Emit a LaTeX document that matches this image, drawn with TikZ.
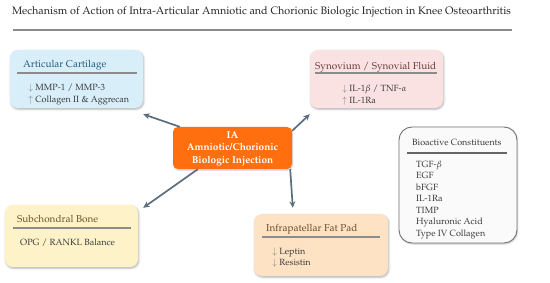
\documentclass[tikz,border=0pt]{standalone}
\usepackage[T1]{fontenc}
\usepackage{mathpazo}
\usetikzlibrary{arrows.meta,shadows.blur}
\definecolor{cartfill}{HTML}{D8EEF9}
\definecolor{carthead}{HTML}{245B7A}
\definecolor{synfill}{HTML}{FBE2E2}
\definecolor{synhead}{HTML}{6B3B3B}
\definecolor{subfill}{HTML}{FDF2C8}
\definecolor{subhead}{HTML}{6B5526}
\definecolor{ipfill}{HTML}{FDE3C4}
\definecolor{iphead}{HTML}{6B4A2E}
\definecolor{iaorange}{HTML}{FF6F10}
\definecolor{conncol}{HTML}{5B6E80}
\definecolor{rulecol}{HTML}{8C8C8C}
\definecolor{txtcol}{HTML}{3A3A3A}
\definecolor{arrcol}{HTML}{808080}
\tikzset{
  region/.style={rounded corners=8pt, inner sep=0pt,
    blur shadow={shadow xshift=0.8pt, shadow yshift=-1.3pt, shadow blur radius=2pt, shadow opacity=30}},
  headtxt/.style={anchor=base west, inner sep=0pt, font=\fontsize{10}{12}\selectfont},
  itemtxt/.style={anchor=base west, inner sep=0pt, text=txtcol, font=\fontsize{9}{11}\selectfont},
  seprule/.style={draw=rulecol, line width=1.3pt},
  conn/.style={draw=conncol, line width=1.7pt, -{Stealth[length=6.5pt,width=6pt]}},
}
\newcommand{\dn}{\textcolor{arrcol}{$\downarrow$}}
\newcommand{\upa}{\textcolor{arrcol}{$\uparrow$}}
\begin{document}
\begin{tikzpicture}[x=1pt,y=-1pt]
\useasboundingbox (0,0) rectangle (550,283);
% title
\node[inner sep=0pt, text=black!85, font=\fontsize{10.8}{13}\selectfont] (title) at (261.5,12.5) {Mechanism of Action of Intra-Articular Amniotic and Chorionic Biologic Injection in Knee Osteoarthritis};
\coordinate (tl) at (13,30);
\coordinate (tr) at (512,30);
\draw[draw=rulecol, line width=1.3pt] (tl) -- (tr);

% boxes
\node[region, fill=cartfill, minimum width=133pt, minimum height=58pt] (ac) at (76.5,79) {};
\node[region, fill=synfill, minimum width=133pt, minimum height=58pt] (syn) at (376.5,79) {};
\node[region, fill=subfill, minimum width=133pt, minimum height=62pt] (sub) at (71.5,236) {};
\node[region, fill=ipfill, minimum width=134pt, minimum height=62pt] (ip) at (321,245) {};
\node[rounded corners=13pt, draw=black!55, line width=0.9pt, fill=black!2, minimum width=118pt, minimum height=116pt, inner sep=0pt,
  blur shadow={shadow xshift=0.6pt, shadow yshift=-1pt, shadow blur radius=1.5pt, shadow opacity=25}] (bio) at (458,185) {};
\node[rounded corners=5pt, fill=iaorange, minimum width=119pt, minimum height=42pt, inner sep=0pt,
  blur shadow={shadow xshift=0.6pt, shadow yshift=-1pt, shadow blur radius=1.5pt, shadow opacity=25}] (ia) at (232.5,148) {};
\node[text=white, align=center, inner sep=0pt, font=\fontsize{10}{12.5}\selectfont\bfseries] (iatxt) at (232.5,148.5) {IA\\Amniotic/Chorionic\\Biologic Injection};

% Articular cartilage
\node[headtxt, text=carthead] (ach) at (23,67.5) {Articular Cartilage};
\draw[seprule] (17,73) -- (137,73);
\node[itemtxt] (ac1) at (28,90.2) {\dn\ MMP-1 / MMP-3};
\node[itemtxt] (ac2) at (28,102.2) {\upa\ Collagen II \& Aggrecan};

% Synovium
\node[headtxt, text=synhead] (synh) at (315,69.5) {Synovium / Synovial Fluid};
\draw[seprule] (315,73) -- (437,73);
\node[itemtxt] (syn1) at (342,91.2) {\dn\ IL-1$\beta$ / TNF-$\alpha$};
\node[itemtxt] (syn2) at (342,103.2) {\upa\ IL-1Ra};

% Subchondral
\node[headtxt, text=subhead] (subh) at (17,222.5) {Subchondral Bone};
\draw[seprule] (13,228) -- (131,228);
\node[itemtxt] (sub1) at (20,245.2) {OPG / RANKL Balance};

% Infrapatellar
\node[headtxt, text=iphead] (iph) at (266,231.5) {Infrapatellar Fat Pad};
\draw[seprule] (262,237) -- (380,237);
\node[itemtxt] (ip1) at (272,254.2) {\dn\ Leptin};
\node[itemtxt] (ip2) at (272,265.2) {\dn\ Resistin};

% Bioactive
\node[anchor=base west, inner sep=0pt, text=txtcol, font=\fontsize{9}{11}\selectfont] (bioh) at (412,145.5) {Bioactive Constituents};
\draw[draw=black!60, line width=1.2pt] (407,153) -- (507,153);
\foreach \t [count=\i from 0] in {TGF-$\beta$,EGF,bFGF,IL-1Ra,TIMP,Hyaluronic Acid,Type IV Collagen}{
  \node[itemtxt] (bio\i) at (416,{167.2+11.5*\i}) {\t};
}

% connectors
\draw[conn] ([xshift=7pt]ia.north west) -- ([yshift=-6pt]ac.south east);
\draw[conn] ([yshift=-4pt]ia.north east) -- ([yshift=-6pt]syn.south west);
\draw[conn] ([xshift=25pt]ia.south west) -- ([xshift=5pt,yshift=-3pt]sub.north east);
\draw[conn] ([xshift=-2pt]ia.south east) -- ([xshift=39pt,yshift=6pt]ip.north west);
\end{tikzpicture}
\end{document}
